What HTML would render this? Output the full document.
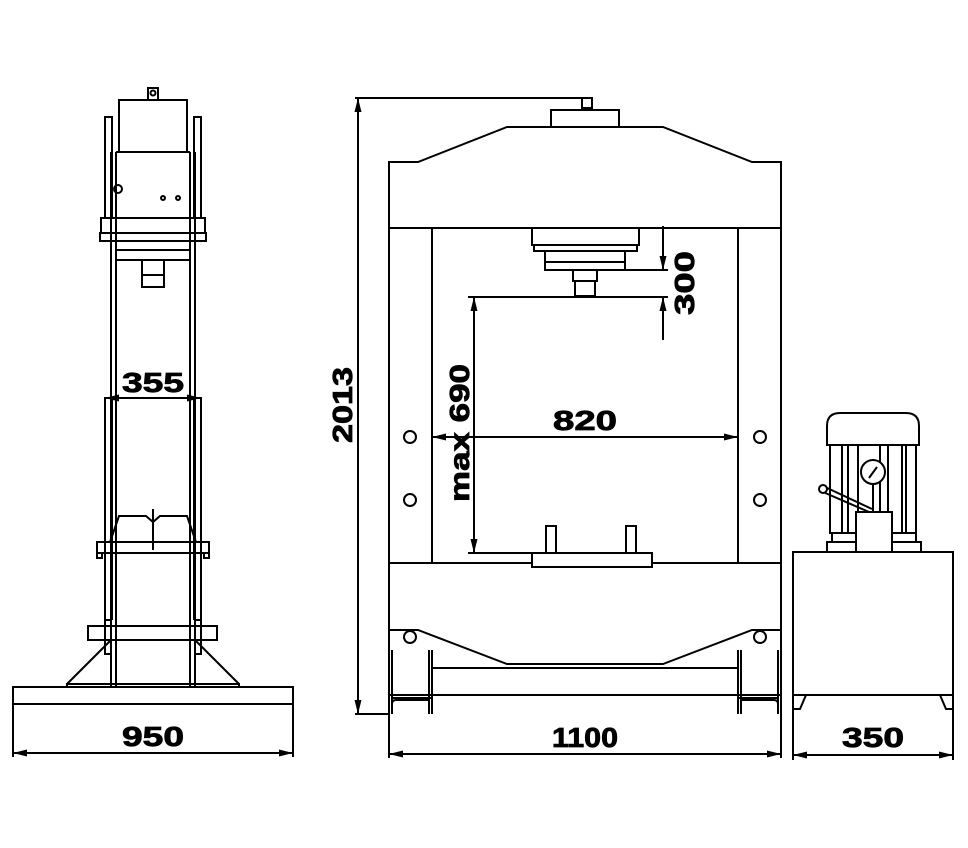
<!DOCTYPE html>
<html><head><meta charset="utf-8"><style>
html,body{margin:0;padding:0;background:#fff}
svg{display:block}
text{font-family:"Liberation Sans",sans-serif;font-weight:bold;font-size:28px;fill:#000;stroke:#000;stroke-width:0.8}
</style></head><body>
<svg width="968" height="848" viewBox="0 0 968 848" xmlns="http://www.w3.org/2000/svg">
<defs>
<marker id="a" viewBox="0 0 14 7" refX="14" refY="3.5" markerWidth="14" markerHeight="7" orient="auto-start-reverse" markerUnits="userSpaceOnUse"><path d="M0,0 L14,3.5 L0,7 z" fill="#000"/></marker>
</defs>
<g fill="none" stroke="#000" stroke-width="2">
<!-- LEFT VIEW -->
<rect x="148" y="88" width="10" height="12"/>
<circle cx="153" cy="93" r="2.5"/>
<rect x="119" y="100" width="68" height="52"/>
<rect x="105" y="117" width="7" height="101"/>
<rect x="194" y="117" width="7" height="101"/>
<line x1="111" y1="152" x2="111" y2="686"/><line x1="116" y1="152" x2="116" y2="686"/>
<line x1="190" y1="152" x2="190" y2="686"/><line x1="195" y1="152" x2="195" y2="686"/>
<line x1="116" y1="152" x2="190" y2="152"/>
<rect x="101" y="218" width="104" height="15"/>
<rect x="100" y="233" width="106" height="8"/>
<line x1="116" y1="250" x2="190" y2="250"/>
<line x1="116" y1="260" x2="190" y2="260"/>
<path d="M142,260 V287 H164 V260 M142,275 H164"/>
<circle cx="118" cy="189" r="4"/>
<circle cx="163" cy="198" r="2"/><circle cx="178" cy="198" r="2"/>
<path d="M105,397 V620 M112,397 V620 M194,397 V620 M201,397 V620"/>
<rect x="105" y="620" width="6" height="34"/><rect x="195" y="620" width="6" height="34"/>
<path d="M110,542 L119,516 H146 L153,522 L160,516 H187 L196,542"/>
<line x1="153" y1="509" x2="153" y2="550"/>
<rect x="97" y="542" width="112" height="11"/>
<rect x="97" y="553" width="5" height="5"/><rect x="204" y="553" width="5" height="5"/>
<rect x="88" y="626" width="129" height="14"/>
<path d="M111,640 L67,684 M195,640 L239,684"/>
<rect x="67" y="684" width="172" height="3"/>
<rect x="13" y="687" width="280" height="17"/>
<path d="M13,704 V757 M293,704 V757"/>
<line x1="13" y1="753" x2="293" y2="753" marker-start="url(#a)" marker-end="url(#a)"/>
<line x1="105" y1="398" x2="201" y2="398" marker-start="url(#a)" marker-end="url(#a)"/>
<!-- MIDDLE VIEW -->
<path d="M355,98 H592 M355,714 H390"/>
<line x1="358" y1="98" x2="358" y2="714" marker-start="url(#a)" marker-end="url(#a)"/>
<rect x="582" y="98" width="10" height="10"/>
<rect x="551" y="110" width="68" height="17"/>
<path d="M389,714 V162 H418 L507,127 H663 L752,162 H781 V714"/>
<line x1="389" y1="228" x2="781" y2="228"/>
<line x1="432" y1="228" x2="432" y2="563"/>
<line x1="738" y1="228" x2="738" y2="563"/>
<rect x="532" y="228" width="107" height="17"/>
<rect x="534" y="245" width="103" height="6"/>
<rect x="545" y="251" width="80" height="11"/>
<rect x="545" y="262" width="80" height="8"/>
<rect x="573" y="270" width="24" height="11"/>
<rect x="575" y="281" width="20" height="15"/>
<path d="M625,270 H668 M468,297 H668 M468,553 H575"/>
<line x1="663" y1="226" x2="663" y2="270" marker-end="url(#a)"/>
<line x1="663" y1="340" x2="663" y2="297" marker-end="url(#a)"/>
<line x1="474" y1="297" x2="474" y2="553" marker-start="url(#a)" marker-end="url(#a)"/>
<line x1="432" y1="437" x2="738" y2="437" marker-start="url(#a)" marker-end="url(#a)"/>
<circle cx="410" cy="437" r="6"/><circle cx="410" cy="500" r="6"/>
<circle cx="760" cy="437" r="6"/><circle cx="760" cy="500" r="6"/>
<rect x="546" y="526" width="10" height="27"/><rect x="626" y="526" width="10" height="27"/>
<rect x="532" y="553" width="120" height="14"/>
<path d="M389,563 H532 M652,563 H781"/>
<path d="M389,630 H418 L507,664 H663 L752,630 H781"/>
<circle cx="410" cy="637" r="6"/><circle cx="760" cy="637" r="6"/>
<path d="M432,668 H738 M389,695 H781"/>
<path d="M432,650 V714 M429,650 V714 M738,650 V714 M741,650 V714 M392,650 V714 M778,650 V714"/>
<path d="M392,714 V704 Q392,700 396,700 H429 M392,698 H432 M778,714 V704 Q778,700 774,700 H741 M778,698 H738"/>
<path d="M389,714 V758 M781,714 V758"/>
<line x1="389" y1="754" x2="781" y2="754" marker-start="url(#a)" marker-end="url(#a)"/>
<!-- RIGHT VIEW -->
<path d="M827,445 V426 Q827,413 840,413 H906 Q919,413 919,426 V445 Z"/>
<rect x="830" y="445" width="86" height="88"/>
<path d="M842,445 V533 M848,445 V533 M858,445 V533 M902,445 V533 M906,445 V533 M880,445 V533 M888,445 V533"/>
<rect x="832" y="533" width="84" height="9"/>
<rect x="827" y="542" width="94" height="10"/>
<rect x="856" y="512" width="36" height="40" fill="#fff"/>
<circle cx="873" cy="472" r="12" fill="#fff"/>
<line x1="873" y1="484" x2="873" y2="512"/>
<line x1="869" y1="478" x2="877" y2="467"/>
<path d="M825,487 L872,509 M823,492 L869,512"/>
<circle cx="823" cy="489" r="4" fill="#fff"/>
<rect x="793" y="552" width="160" height="143"/>
<path d="M793,695 V713 M953,695 V713 M806,695 L800,709 H793 M940,695 L946,709 H953"/>
<path d="M793,713 V760 M953,713 V760"/>
<line x1="793" y1="755" x2="953" y2="755" marker-start="url(#a)" marker-end="url(#a)"/>
</g>
<text x="153" y="392" text-anchor="middle" textLength="62" lengthAdjust="spacingAndGlyphs">355</text>
<text x="153" y="746" text-anchor="middle" textLength="62" lengthAdjust="spacingAndGlyphs">950</text>
<text x="585" y="430" text-anchor="middle" textLength="64" lengthAdjust="spacingAndGlyphs">820</text>
<text x="585" y="747" text-anchor="middle" textLength="66" lengthAdjust="spacingAndGlyphs">1100</text>
<text x="873" y="747" text-anchor="middle" textLength="62" lengthAdjust="spacingAndGlyphs">350</text>
<text transform="translate(352,405) rotate(-90)" text-anchor="middle" textLength="76" lengthAdjust="spacingAndGlyphs">2013</text>
<text transform="translate(694,283) rotate(-90)" text-anchor="middle" textLength="64" lengthAdjust="spacingAndGlyphs">300</text>
<text transform="translate(469,433) rotate(-90)" text-anchor="middle" textLength="138" lengthAdjust="spacingAndGlyphs">max 690</text>
</svg>
</body></html>
